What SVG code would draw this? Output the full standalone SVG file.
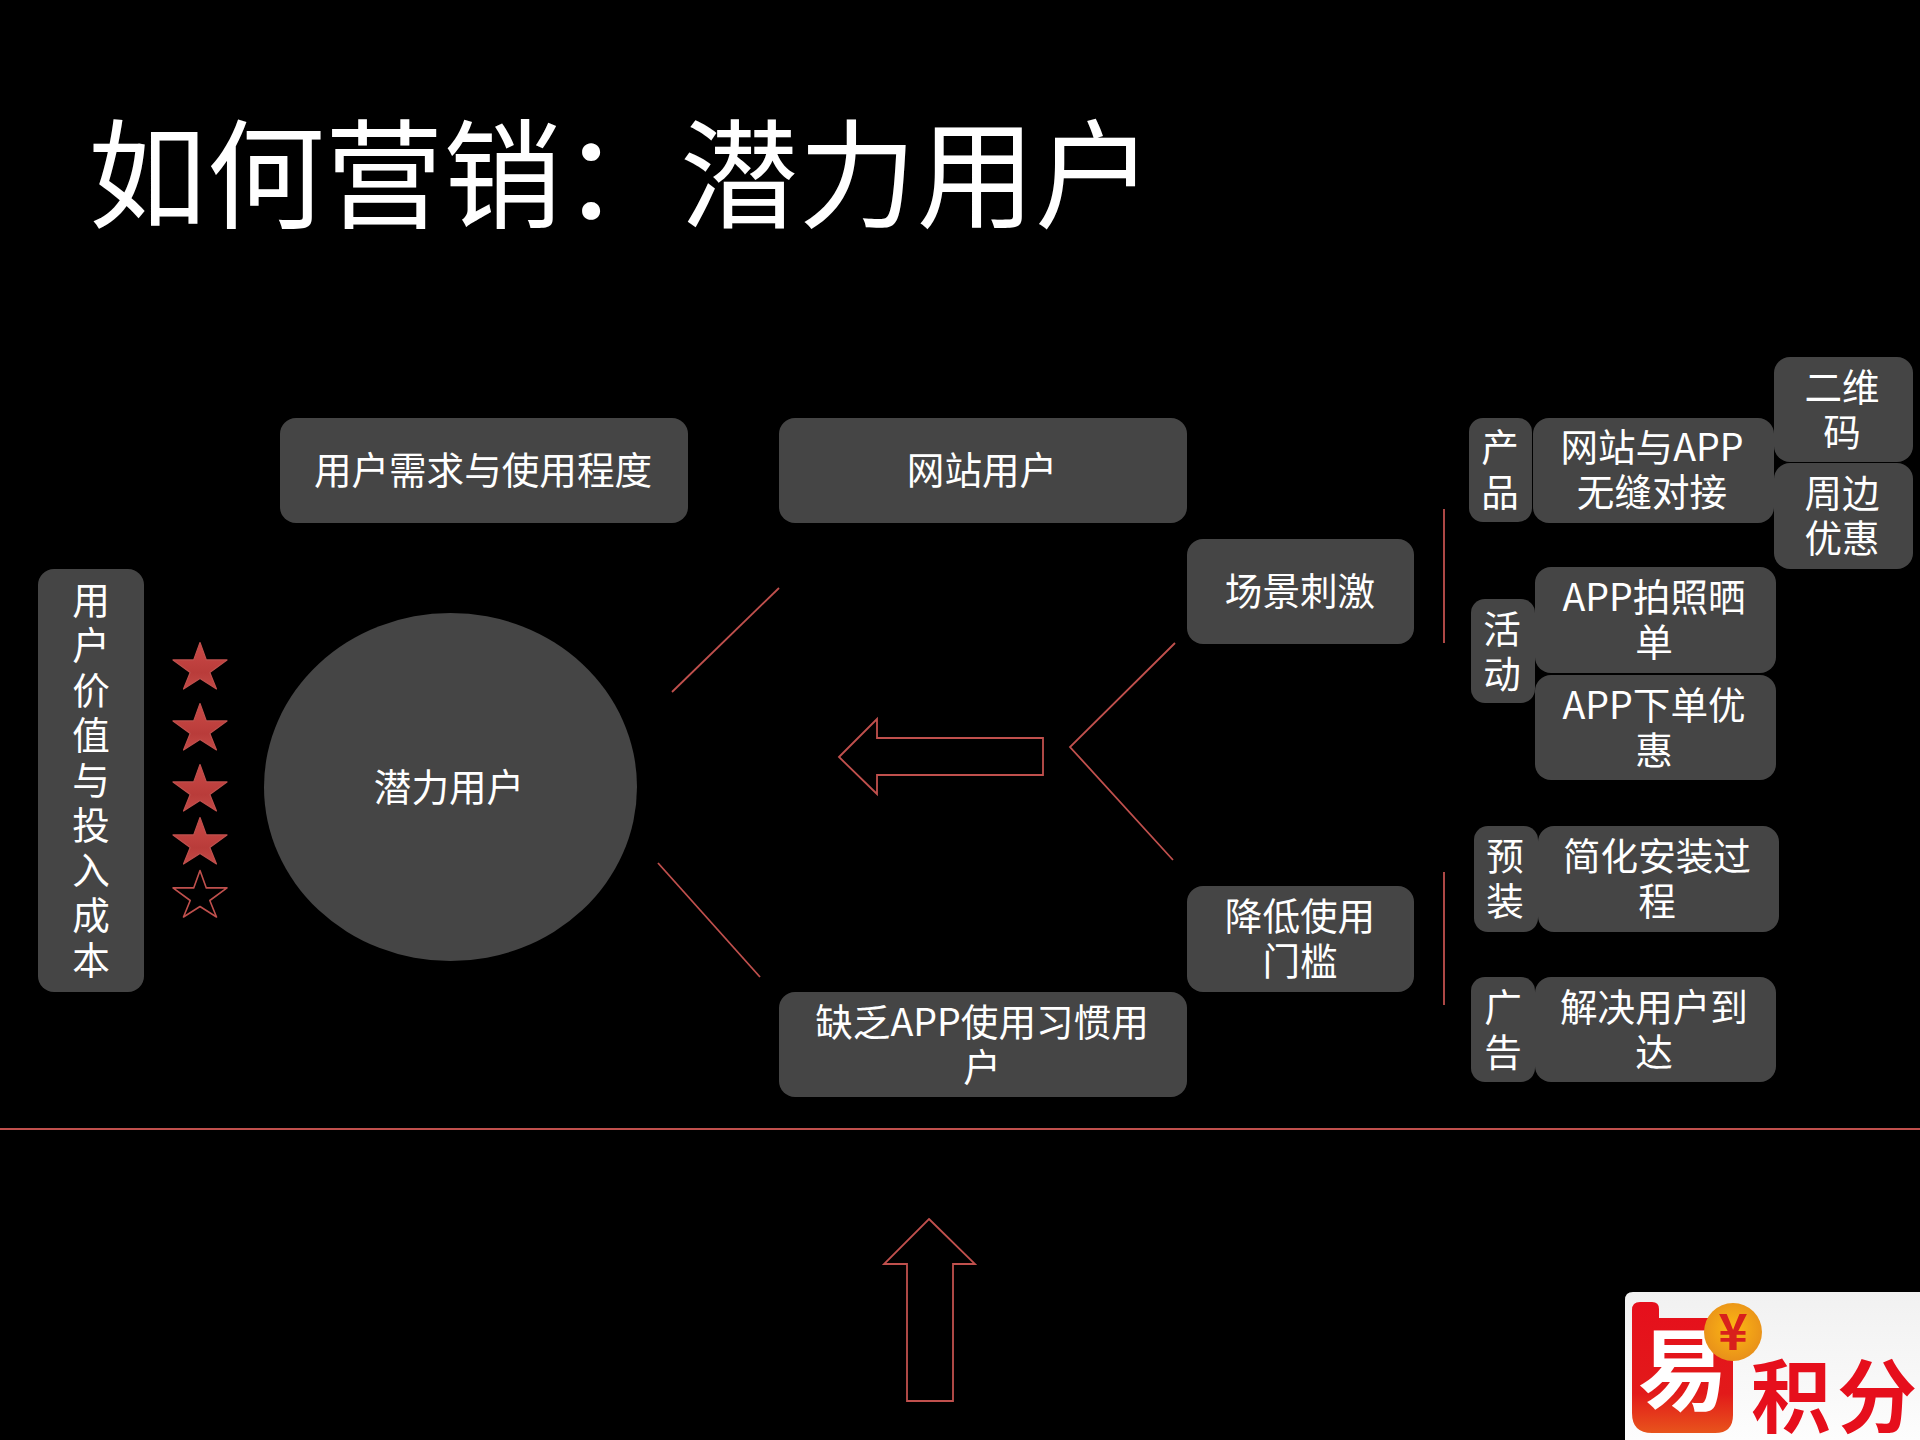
<svg xmlns="http://www.w3.org/2000/svg" width="1920" height="1440" viewBox="0 0 1920 1440">
<style>
text{font-family:"Noto Sans CJK SC","Noto Sans",sans-serif;fill:#fff;text-anchor:middle;font-size:37.6px;font-weight:400}
.title{font-size:118.4px;text-anchor:start}
.box{fill:#454545}
.line{fill:none;stroke:#c0504d;stroke-width:1.8}
.star{fill:url(#starFill);stroke:#c0504d;stroke-width:1.2;stroke-linejoin:round}
.hollow{fill:none;stroke:#c0504d;stroke-width:1.6;stroke-linejoin:round}
.logo{font-weight:700;fill:#e60f1c;font-size:80px}
</style>
<defs>
<linearGradient id="starFill" x1="0" y1="0" x2="0" y2="1"><stop offset="0" stop-color="#cb4a47"/><stop offset="0.65" stop-color="#b93c3a"/><stop offset="1" stop-color="#c44a47"/></linearGradient>
<linearGradient id="logoBg" x1="0" y1="0" x2="0" y2="1"><stop offset="0" stop-color="#f1f1f1"/><stop offset="1" stop-color="#fdfdfd"/></linearGradient>
<linearGradient id="logoRed" x1="0" y1="0" x2="0" y2="1"><stop offset="0" stop-color="#e60f1c"/><stop offset="0.7" stop-color="#e21a1a"/><stop offset="1" stop-color="#e8541c"/></linearGradient>
<radialGradient id="coin" cx="0.5" cy="0.45" r="0.55"><stop offset="0" stop-color="#fdb813"/><stop offset="1" stop-color="#e8901a"/></radialGradient>
<path id="starShape" d="M0 0L6.3 17.4H27L9.8 30L16.5 46.5L0 36L-16.5 46.5L-9.8 30L-27 17.4H-6.3Z"/>
</defs>
<rect width="1920" height="1440" fill="#000"/>
<text class="title" x="88" y="219">如何营销：潜力用户</text>

<g id="connectors">
<path class="line" d="M779 588L672 692"/>
<path class="line" d="M658 863L760 977"/>
<path class="line" d="M1175 643L1070 747L1173 860"/>
<path class="line" d="M1444 509V643"/>
<path class="line" d="M1444 872V1005"/>
<path class="line" d="M0 1129H1920"/>
<path class="line" d="M839 757L877 719V738H1043V775H877V794Z"/>
<path class="line" d="M929 1219L975 1264H953V1401H907V1264H884Z"/>
</g>

<g id="n-value"><rect class="box" x="38" y="569" width="106" height="423" rx="16"/>
<text><tspan x="91" y="614">用</tspan><tspan x="91" y="659">户</tspan><tspan x="91" y="704">价</tspan><tspan x="91" y="749">值</tspan><tspan x="91" y="794">与</tspan><tspan x="91" y="839">投</tspan><tspan x="91" y="884">入</tspan><tspan x="91" y="929">成</tspan><tspan x="91" y="974">本</tspan></text></g>
<g id="stars">
<use class="star" href="#starShape" x="200" y="642.5"/>
<use class="star" href="#starShape" x="200" y="703.5"/>
<use class="star" href="#starShape" x="200" y="764.5"/>
<use class="star" href="#starShape" x="200" y="817.5"/>
<use class="hollow" href="#starShape" x="200" y="870.5"/>
</g>
<g id="n-potential"><ellipse class="box" cx="450.5" cy="787" rx="186.5" ry="174"/><text x="449" y="801">潜力用户</text></g>
<g id="n-needs"><rect class="box" x="280" y="418" width="408" height="105" rx="16"/><text x="483" y="484">用户需求与使用程度</text></g>
<g id="n-web"><rect class="box" x="779" y="418" width="408" height="105" rx="16"/><text x="982" y="484">网站用户</text></g>
<g id="n-noapp"><rect class="box" x="779" y="992" width="408" height="105" rx="16"/><text><tspan x="982" y="1036">缺乏APP使用习惯用</tspan><tspan x="982" y="1081">户</tspan></text></g>
<g id="n-scene"><rect class="box" x="1187" y="539" width="227" height="105" rx="16"/><text x="1300" y="605">场景刺激</text></g>
<g id="n-lower"><rect class="box" x="1187" y="886" width="227" height="106" rx="16"/><text><tspan x="1300" y="930">降低使用</tspan><tspan x="1300" y="975">门槛</tspan></text></g>
<g id="n-product"><rect class="box" x="1469" y="418" width="63" height="104" rx="14"/><text><tspan x="1500" y="461">产</tspan><tspan x="1500" y="506">品</tspan></text></g>
<g id="n-seamless"><rect class="box" x="1533" y="418" width="241" height="105" rx="16"/><text><tspan x="1652" y="461">网站与APP</tspan><tspan x="1652" y="506">无缝对接</tspan></text></g>
<g id="n-qr"><rect class="box" x="1774" y="357" width="139" height="105" rx="16"/><text><tspan x="1842" y="401">二维</tspan><tspan x="1842" y="446">码</tspan></text></g>
<g id="n-perks"><rect class="box" x="1774" y="463" width="139" height="106" rx="16"/><text><tspan x="1842" y="507">周边</tspan><tspan x="1842" y="552">优惠</tspan></text></g>
<g id="n-photo"><rect class="box" x="1535" y="567" width="241" height="106" rx="16"/><text><tspan x="1654" y="610.5">APP拍照晒</tspan><tspan x="1654" y="655.5">单</tspan></text></g>
<g id="n-order"><rect class="box" x="1535" y="675" width="241" height="105" rx="16"/><text><tspan x="1654" y="718.5">APP下单优</tspan><tspan x="1654" y="763.5">惠</tspan></text></g>
<g id="n-activity"><rect class="box" x="1471" y="599" width="64" height="104" rx="14"/><text><tspan x="1502" y="643">活</tspan><tspan x="1502" y="688">动</tspan></text></g>
<g id="n-preinstall"><rect class="box" x="1474" y="826" width="64" height="106" rx="14"/><text><tspan x="1505" y="870">预</tspan><tspan x="1505" y="915">装</tspan></text></g>
<g id="n-simple"><rect class="box" x="1538" y="826" width="241" height="106" rx="16"/><text><tspan x="1657" y="870">简化安装过</tspan><tspan x="1657" y="915">程</tspan></text></g>
<g id="n-ad"><rect class="box" x="1471" y="977" width="64" height="105" rx="14"/><text><tspan x="1503" y="1021">广</tspan><tspan x="1503" y="1066">告</tspan></text></g>
<g id="n-reach"><rect class="box" x="1535" y="977" width="241" height="105" rx="16"/><text><tspan x="1654" y="1021">解决用户到</tspan><tspan x="1654" y="1066">达</tspan></text></g>

<g id="logo">
<path d="M1633 1292H1920V1440H1625V1300Q1625 1292 1633 1292Z" fill="url(#logoBg)"/>
<path d="M1640 1302H1652Q1659 1302 1659 1309V1318H1733V1415Q1733 1433 1715 1433H1652Q1632 1433 1632 1413V1310Q1632 1302 1640 1302Z" fill="url(#logoRed)"/>
<text class="logo" x="1683" y="1403" style="fill:#fff;font-size:90px">易</text>
<circle cx="1733" cy="1332" r="29" fill="url(#coin)"/>
<text class="logo" x="1733" y="1350" style="font-size:50px;fill:#d8201c">¥</text>
<text class="logo" x="1791" y="1426">积</text>
<text class="logo" x="1877" y="1426">分</text>
</g>
</svg>
